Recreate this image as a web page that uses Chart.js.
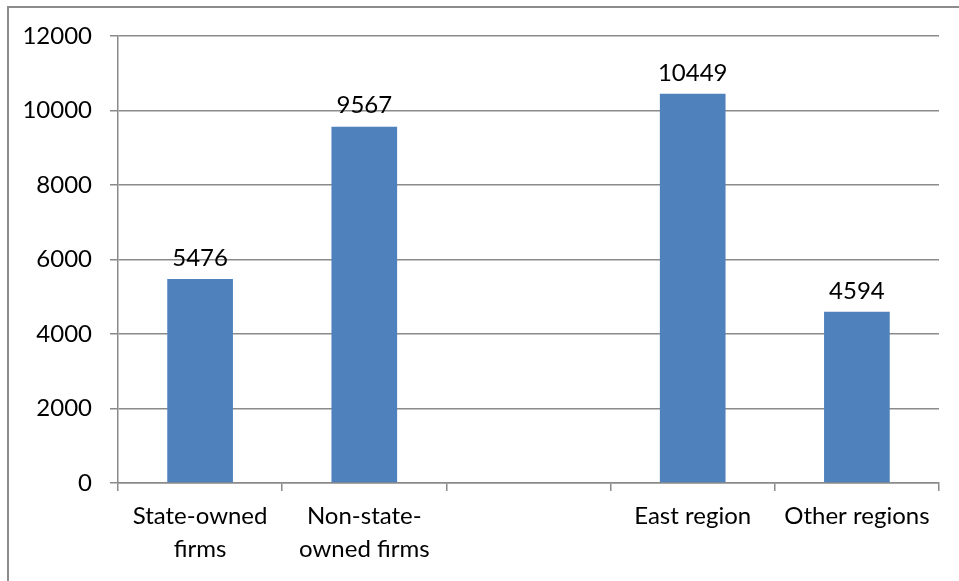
<!DOCTYPE html>
<html>
<head>
<meta charset="utf-8">
<style>
  html, body { margin: 0; padding: 0; background: #ffffff; }
  #wrap { position: relative; width: 959px; height: 581px; }
</style>
<script src="https://cdn.jsdelivr.net/npm/chart.js@4"></script>
</head>
<body>
<div id="wrap"><canvas id="c" width="959" height="581"></canvas></div>
<script>
const categories = [["State-owned", "firms"], ["Non-state-", "owned firms"], "", "East region", "Other regions"];
const values = [5476, 9567, null, 10449, 4594];
const yTicks = [0, 2000, 4000, 6000, 8000, 10000, 12000];

const FONT = "Lato, 'Open Sans', sans-serif";
const GRID = "#8a8a8a";

const borderPlugin = {
  id: "outerBorder",
  beforeDraw(chart) {
    const ctx = chart.ctx;
    ctx.save();
    ctx.fillStyle = "#ffffff";
    ctx.fillRect(0, 0, chart.width, chart.height);
    ctx.strokeStyle = "#8c8c8c";
    ctx.lineWidth = 2;
    ctx.strokeRect(8, 7, chart.width + 20, chart.height + 20);
    ctx.restore();
  }
};

const labelPlugin = {
  id: "barLabels",
  afterDatasetsDraw(chart) {
    const ctx = chart.ctx;
    const meta = chart.getDatasetMeta(0);
    ctx.save();
    ctx.font = "24px " + FONT;
    ctx.fillStyle = "#000000";
    ctx.textAlign = "center";
    ctx.textBaseline = "bottom";
    meta.data.forEach((bar, i) => {
      const v = chart.data.datasets[0].data[i];
      if (v === null || v === undefined) return;
      ctx.fillText(String(v), bar.x, bar.y - 9);
    });
    ctx.restore();
  }
};

new Chart(document.getElementById("c"), {
  type: "bar",
  data: {
    labels: categories,
    datasets: [{
      data: values,
      backgroundColor: "#4F81BD",
      borderWidth: 0,
      barPercentage: 0.4,
      categoryPercentage: 1.0
    }]
  },
  options: {
    responsive: false,
    animation: false,
    devicePixelRatio: 1,
    layout: { padding: { top: 36, right: 20, bottom: 0, left: 0 } },
    plugins: {
      legend: { display: false },
      tooltip: { enabled: false }
    },
    scales: {
      x: {
        offset: true,
        grid: {
          display: true,
          offset: true,
          drawOnChartArea: false,
          drawTicks: true,
          tickLength: 8,
          color: GRID,
          lineWidth: 1.5
        },
        border: { display: true, color: GRID, width: 1.5 },
        ticks: {
          color: "#000000",
          font: { family: FONT, size: 24, lineHeight: 1.38 },
          padding: 9,
          maxRotation: 0,
          autoSkip: false
        },
        afterFit(scale) { scale.height = 98; }
      },
      y: {
        min: 0,
        max: 12000,
        afterBuildTicks(scale) { scale.ticks = yTicks.map(v => ({ value: v })); },
        grid: {
          color: GRID,
          lineWidth: 1.5,
          tickLength: 8,
          drawTicks: true
        },
        border: { display: true, color: GRID, width: 1.5 },
        ticks: {
          color: "#000000",
          font: { family: FONT, size: 24 },
          padding: 18,
          callback: (v) => String(v)
        },
        afterFit(scale) { scale.width = 118; }
      }
    }
  },
  plugins: [borderPlugin, labelPlugin]
});
</script>
</body>
</html>
